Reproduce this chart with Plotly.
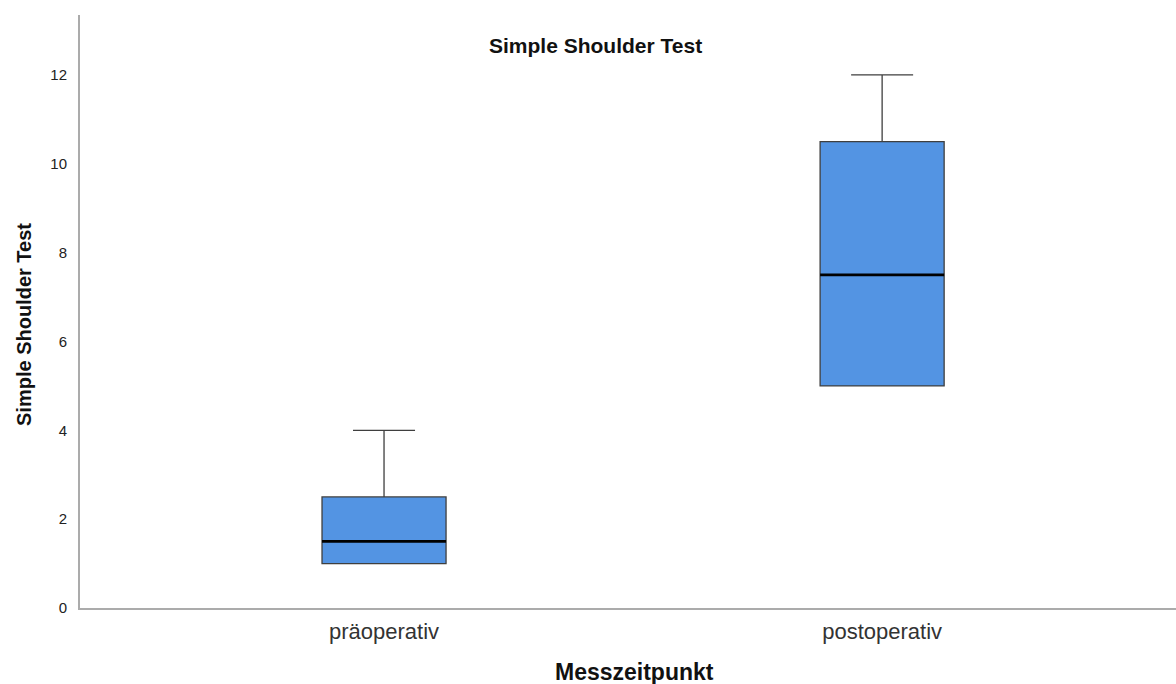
import plotly.graph_objects as go

categories = ["präoperativ", "postoperativ"]
positions = [0, 1]
q1 = [1.0, 5.0]
median = [1.5, 7.5]
q3 = [2.5, 10.5]
lower = [1.0, 5.0]
upper = [4.0, 12.0]
y_ticks = [0, 2, 4, 6, 8, 10, 12]

BOX_W = 0.249
FONT = "Liberation Sans, Arial, sans-serif"

fig = go.Figure()
fig.add_trace(go.Box(
    x=positions, q1=q1, median=median, q3=q3,
    lowerfence=lower, upperfence=upper,
    width=BOX_W, whiskerwidth=0.5,
    fillcolor="#5394e3",
    line=dict(color="#3f3f3f", width=1.3),
    boxpoints=False, showlegend=False, hoverinfo="skip",
))
for p, m in zip(positions, median):
    fig.add_trace(go.Scatter(
        x=[p - BOX_W / 2, p + BOX_W / 2], y=[m, m], mode="lines",
        line=dict(color="#000000", width=2.8), showlegend=False, hoverinfo="skip",
    ))

fig.update_layout(
    width=1176, height=684,
    margin=dict(l=80, r=0, t=15, b=76),
    paper_bgcolor="white", plot_bgcolor="white",
    font=dict(family=FONT, color="#222222"),
    xaxis=dict(
        range=[-0.6104, 1.590], tickvals=positions, ticktext=categories,
        showgrid=False, zeroline=False, showline=True,
        linecolor="#ababab", linewidth=2,
        tickfont=dict(size=22, color="#333333"),
        ticks="", ticklabelstandoff=3,
    ),
    yaxis=dict(
        range=[0, 13.35], tickvals=y_ticks,
        showgrid=False, zeroline=False, showline=True,
        linecolor="#ababab", linewidth=2,
        tickfont=dict(size=15, color="#222222"),
        ticks="", ticklabelstandoff=8,
    ),
    annotations=[
        dict(text="<b>Simple Shoulder Test</b>", xref="paper", yref="paper",
             x=(595 - 80) / 1096, y=(608 - 45) / 593, xanchor="center", yanchor="middle",
             showarrow=False, font=dict(size=21, color="#111111", family=FONT)),
        dict(text="<b>Simple Shoulder Test</b>", xref="paper", yref="paper",
             x=(24 - 80) / 1096, y=(608 - 325) / 593, xanchor="center", yanchor="middle",
             textangle=-90, showarrow=False,
             font=dict(size=20, color="#111111", family=FONT)),
        dict(text="<b>Messzeitpunkt</b>", xref="paper", yref="paper",
             x=(634 - 80) / 1096, y=(608 - 672) / 593, xanchor="center", yanchor="middle",
             showarrow=False, font=dict(size=23, color="#111111", family=FONT)),
    ],
)

fig.write_html("out.html")
